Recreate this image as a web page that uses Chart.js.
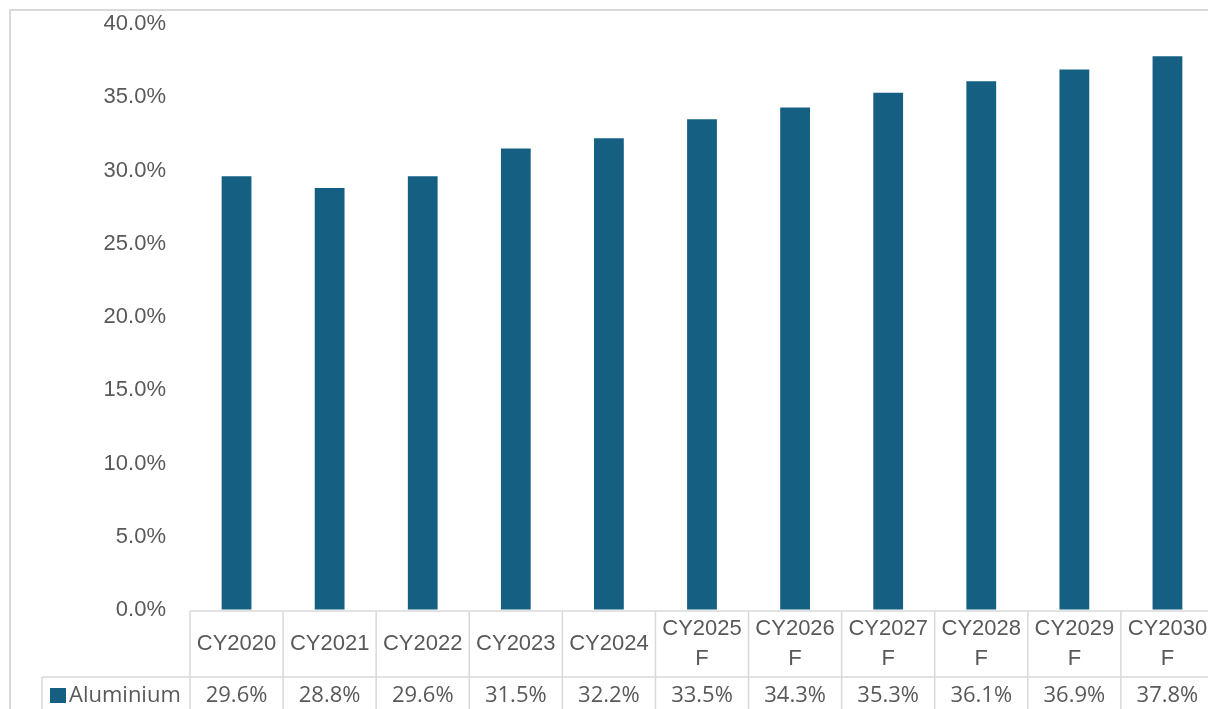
<!DOCTYPE html>
<html>
<head>
<meta charset="utf-8">
<script src="https://cdn.jsdelivr.net/npm/chart.js@4/dist/chart.umd.min.js"></script>
<style>
  html, body { margin: 0; padding: 0; overflow: hidden; background: #ffffff; }
  #wrap { position: absolute; left: 0; top: 0; width: 1240px; height: 740px; }
</style>
</head>
<body>
<div id="wrap"><canvas id="c" width="1240" height="740"></canvas></div>
<script>
// Aluminium share by calendar year (F = forecast)
const categories = [
  ['CY2020'], ['CY2021'], ['CY2022'], ['CY2023'], ['CY2024'],
  ['CY2025', 'F'], ['CY2026', 'F'], ['CY2027', 'F'], ['CY2028', 'F'], ['CY2029', 'F'], ['CY2030', 'F']
];
const seriesName = 'Aluminium';
const aluminium = [29.6, 28.8, 29.6, 31.5, 32.2, 33.5, 34.3, 35.3, 36.1, 36.9, 37.8];
const yTicks = [0, 5, 10, 15, 20, 25, 30, 35, 40];

const BAR = '#156082';
const TEXT = '#595959';
const LINE = '#d9d9d9';
const FONT = '"Liberation Sans", Arial, sans-serif';
const ROW_FONT = '"Open Sans", "Liberation Sans", sans-serif';

// Data table under the plot: category header row + value row with legend key
const dataTable = {
  id: 'dataTable',
  afterDraw(chart) {
    const { ctx, chartArea, scales } = chart;
    const x = scales.x;
    const n = categories.length;
    const step = x.getPixelForValue(1) - x.getPixelForValue(0);
    const left = chartArea.left;
    const top = chartArea.bottom + 1;
    const rowY = top + 66;
    const bottom = chart.height;
    const right = chart.width;

    ctx.save();
    ctx.strokeStyle = LINE;

    // outer chart frame
    ctx.lineWidth = 2;
    ctx.strokeRect(10, 10, right, bottom);
    ctx.lineWidth = 1.5;

    ctx.beginPath();
    ctx.moveTo(left, top); ctx.lineTo(right, top);
    ctx.moveTo(42, rowY); ctx.lineTo(right, rowY);
    ctx.moveTo(42, rowY); ctx.lineTo(42, bottom);
    for (let i = 0; i <= n; i++) {
      const gx = x.getPixelForValue(i) - step / 2;
      ctx.moveTo(gx, top); ctx.lineTo(gx, bottom);
    }
    ctx.stroke();

    // header labels
    ctx.fillStyle = TEXT;
    ctx.textAlign = 'center';
    ctx.textBaseline = 'middle';
    ctx.font = '22px ' + FONT;
    categories.forEach((lines, i) => {
      const cx = x.getPixelForValue(i);
      if (lines.length === 1) {
        ctx.fillText(lines[0], cx, top + 33);
      } else {
        ctx.fillText(lines[0], cx, top + 18);
        ctx.fillText(lines[1], cx, top + 48);
      }
    });

    // value row
    ctx.font = '22px ' + ROW_FONT;
    const vy = rowY + 19;
    aluminium.forEach((v, i) => {
      ctx.fillText(v.toFixed(1) + '%', x.getPixelForValue(i), vy);
    });

    // legend key + series name
    ctx.fillStyle = BAR;
    ctx.fillRect(50, rowY + 11, 16, 15);
    ctx.fillStyle = TEXT;
    ctx.textAlign = 'left';
    ctx.fillText(seriesName, 69, vy);
    ctx.restore();
  }
};

new Chart(document.getElementById('c'), {
  type: 'bar',
  data: {
    labels: categories,
    datasets: [{
      label: seriesName,
      data: aluminium,
      backgroundColor: BAR,
      borderWidth: 0,
      barPercentage: 0.32,
      categoryPercentage: 1.0
    }]
  },
  options: {
    responsive: false,
    animation: false,
    devicePixelRatio: 1,
    layout: { padding: { left: 0, top: 24, right: 26, bottom: 130 } },
    plugins: { legend: { display: false }, tooltip: { enabled: false } },
    scales: {
      x: { display: false },
      y: {
        min: 0,
        max: 40,
        afterFit(scale) { scale.width = 190; },
        afterBuildTicks(scale) { scale.ticks = yTicks.map(v => ({ value: v })); },
        // invisible tick marks keep the labels clear of the plot edge
        grid: { display: true, drawOnChartArea: false, drawTicks: true, tickLength: 24, color: 'rgba(0,0,0,0)' },
        border: { display: false },
        ticks: {
          padding: 0,
          color: TEXT,
          font: { family: FONT, size: 22 },
          callback: v => v.toFixed(1) + '%'
        }
      }
    }
  },
  plugins: [dataTable]
});
</script>
</body>
</html>
